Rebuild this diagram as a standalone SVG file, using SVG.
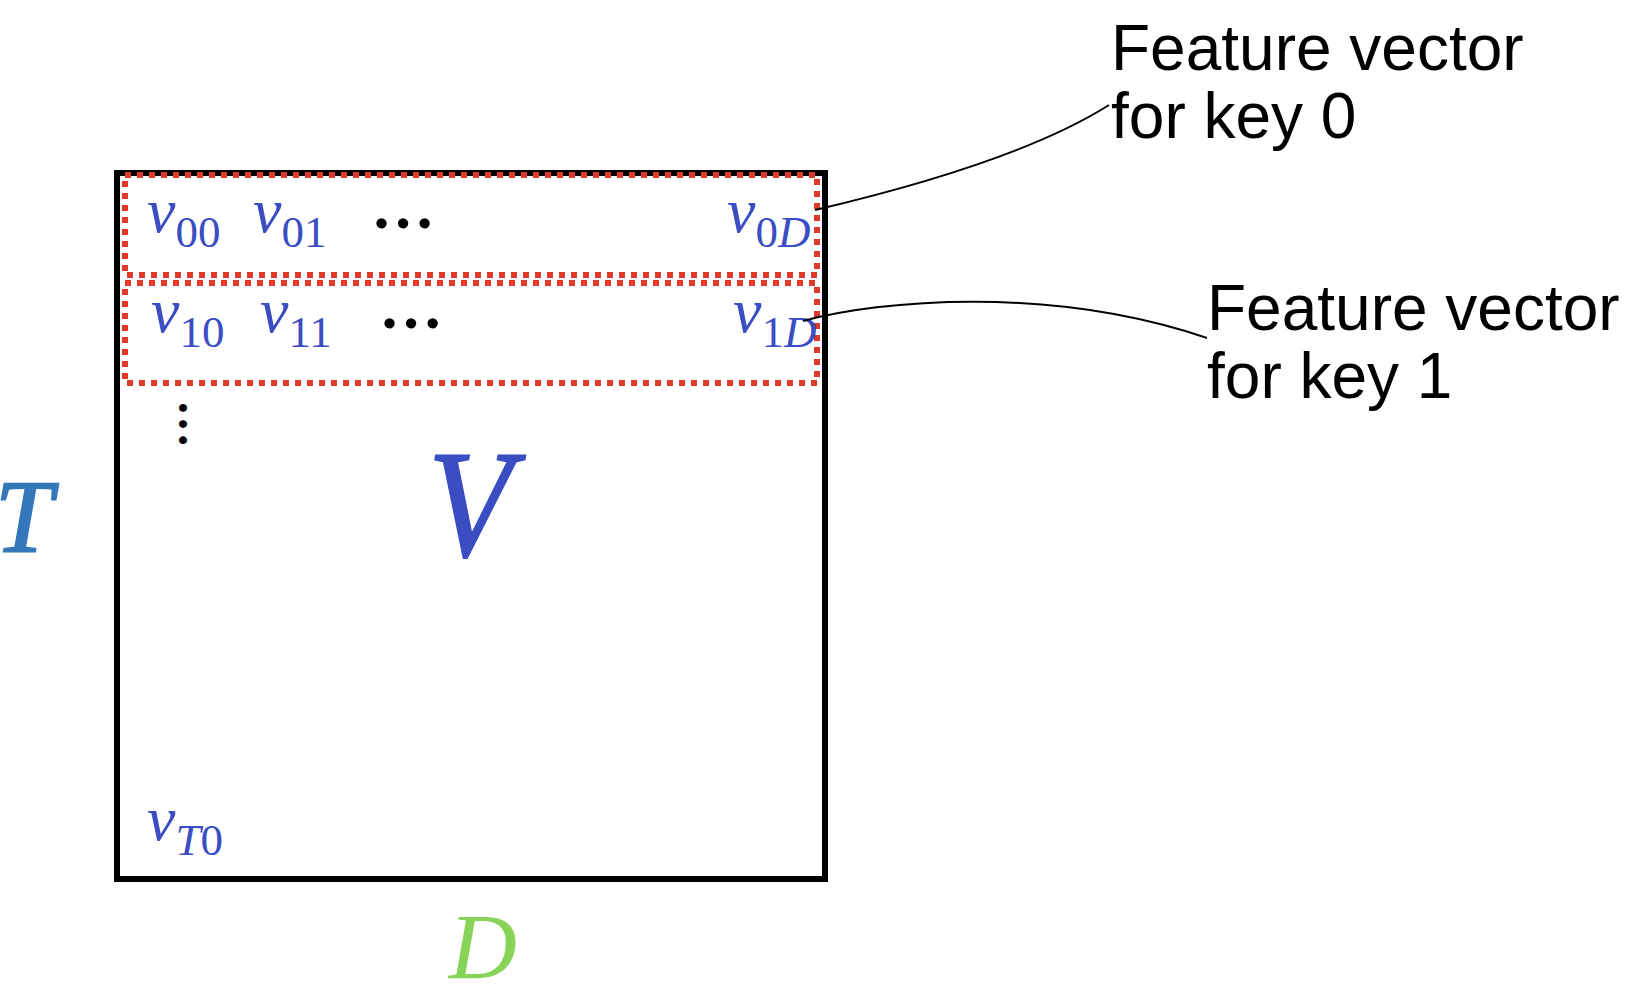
<svg xmlns="http://www.w3.org/2000/svg" width="1648" height="984" viewBox="0 0 1648 984">
<style>
.m{font-family:"Liberation Serif","Times New Roman",serif;font-style:italic;fill:#3a4dc2}
.sub{font-style:normal;font-size:45px}
.si{font-style:italic;font-size:45px}
.lbl{font-family:"Liberation Sans",Arial,sans-serif;font-size:64px;fill:#000}
.dots{font-family:"Liberation Serif","Times New Roman",serif;font-weight:bold;fill:#000}
.row{fill:none;stroke:#e0392b;stroke-width:6;stroke-dasharray:6 6}
.conn{fill:none;stroke:#000;stroke-width:2}
</style>
<rect width="1648" height="984" fill="#fff"/>
<g id="matrix">
<rect x="117" y="173" width="708" height="706" fill="none" stroke="#000" stroke-width="6"/>
<text class="m" font-size="153" stroke="#3a4dc2" stroke-width="2" transform="translate(428,556) scale(0.9,1)">V</text>
<text class="m" x="147" y="840" font-size="64">v<tspan class="si" dy="15">T</tspan><tspan class="sub">0</tspan></text>
<text class="dots" font-size="48" transform="translate(179,400) rotate(90)">…</text>
</g>
<g id="row0">
<rect class="row" x="125" y="175" width="692" height="100"/>
<text class="m" x="147" y="232" font-size="64">v<tspan class="sub" dy="15">00</tspan></text>
<text class="m" x="253" y="232" font-size="64">v<tspan class="sub" dy="15">01</tspan></text>
<text class="dots" x="371" y="228" font-size="64">…</text>
<text class="m" x="727" y="232" font-size="64">v<tspan class="sub" dy="15">0</tspan><tspan class="si">D</tspan></text>
</g>
<g id="row1">
<rect class="row" x="125" y="283" width="692" height="100"/>
<text class="m" x="151" y="332" font-size="64">v<tspan class="sub" dy="15">10</tspan></text>
<text class="m" x="260" y="332" font-size="64">v<tspan class="sub" dy="15">11</tspan></text>
<text class="dots" x="379" y="328" font-size="64">…</text>
<text class="m" x="733" y="332" font-size="64">v<tspan class="sub" dy="15">1</tspan><tspan class="si">D</tspan></text>
</g>
<g id="dimT">
<text x="-5" y="552" font-family="Liberation Serif,serif" font-style="italic" font-size="103" fill="#3478b9" stroke="#3478b9" stroke-width="2">T</text>
</g>
<g id="dimD">
<text x="449" y="978" font-family="Liberation Serif,serif" font-style="italic" font-size="94" fill="#88d458">D</text>
</g>
<g id="label0">
<text class="lbl" x="1111" y="70">Feature vector</text>
<text class="lbl" x="1111" y="138">for key 0</text>
</g>
<g id="label1">
<text class="lbl" x="1207" y="330">Feature vector</text>
<text class="lbl" x="1207" y="398">for key 1</text>
</g>
<g id="connectors">
<path class="conn" d="M815,210 C900,190 1030,155 1109,105"/>
<path class="conn" d="M803,321 C880,300 1050,285 1207,338"/>
</g>
</svg>
